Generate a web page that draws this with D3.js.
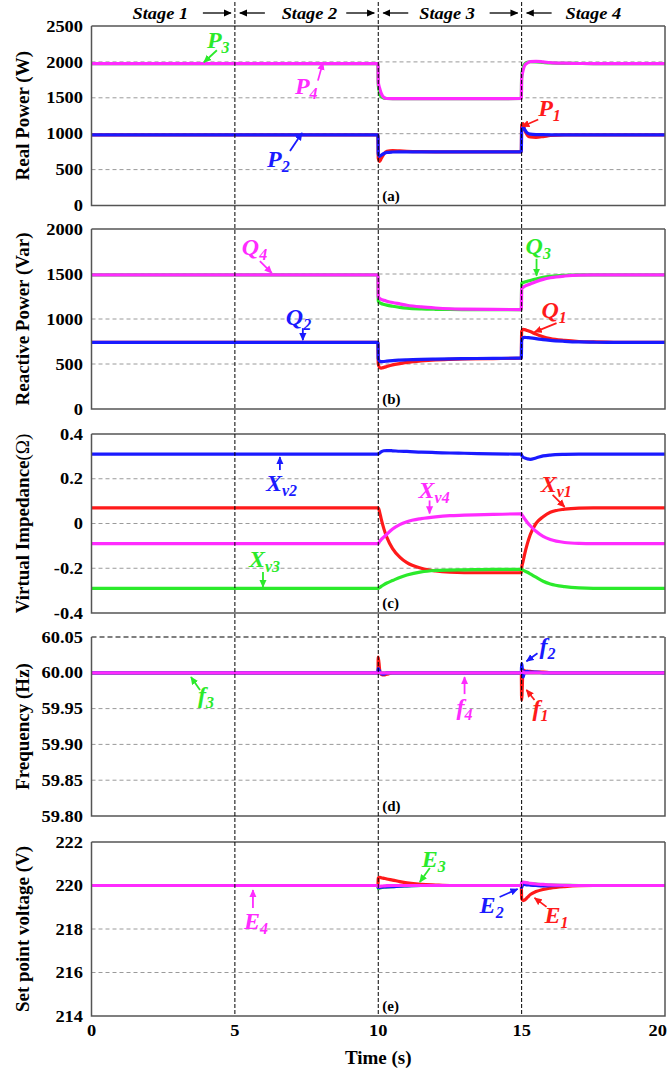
<!DOCTYPE html>
<html>
<head>
<meta charset="utf-8">
<script src="https://cdn.jsdelivr.net/npm/d3@7"></script>
<style>
  body { margin: 0; background: #fff; }
  svg { display: block; }
  text { font-family: "Liberation Serif", "Times New Roman", serif; }
</style>
</head>
<body>
<svg id="chart" width="668" height="1072"></svg>
<script>
// ---- data ----
const time = [0, 5, 9.99, 10, 10.05, 10.1, 10.2, 10.3, 10.5, 10.75, 11, 11.5, 12,
  12.5, 13, 14, 14.99, 15, 15.05, 15.1, 15.2, 15.3, 15.5, 15.75, 16, 16.5, 17,
  17.5, 18, 19, 20];

// (a) real power, W
const P1 = [985,985,985, 660,615,650,720,755, 765,760,755,750,748, 748,748,748,748, 1120,1140,1060,980,955, 950,960,975,985,985, 985,985,985,985];
const P2 = [985,985,985, 720,685,700,725,740, 745,747,748,748,748, 748,748,748,748, 1050,1095,1060,1010,995, 988,986,985,985,985, 985,985,985,985];
const P3 = [1975,1975,1975, 1680,1570,1515,1495,1490, 1488,1488,1488,1488,1488, 1488,1488,1488,1490, 1800,1920,1965,1995,2002, 2000,1992,1985,1980,1978, 1977,1976,1976,1976];
const P4 = [1975,1975,1975, 1720,1630,1565,1505,1490, 1488,1488,1488,1488,1488, 1488,1488,1488,1490, 1760,1880,1945,1985,2005, 2008,2000,1990,1982,1978, 1977,1976,1976,1976];

// (b) reactive power, Var
const Q1 = [740,740,740, 500,460,455,462,472, 490,505,518,535,546, 552,556,560,565, 860,885,882,872,860, 832,802,782,762,750, 745,742,740,740];
const Q2 = [740,740,740, 560,530,526,528,532, 538,543,547,552,555, 558,560,563,565, 760,792,796,793,790, 782,770,762,752,745, 742,740,740,740];
const Q3 = [1490,1490,1490, 1200,1180,1172,1162,1154, 1142,1130,1121,1112,1108, 1106,1105,1104,1104, 1395,1405,1410,1420,1428, 1445,1462,1473,1485,1490, 1490,1490,1490,1490];
const Q4 = [1490,1490,1490, 1250,1228,1218,1207,1198, 1183,1168,1153,1134,1122, 1114,1110,1106,1105, 1340,1352,1362,1377,1390, 1415,1440,1458,1478,1488, 1490,1490,1490,1490];

// (c) virtual impedance, ohm
const Xv1 = [0.07,0.07,0.07, 0.07,0.05,0.022,-0.025,-0.062, -0.112,-0.15,-0.175,-0.2,-0.212, -0.218,-0.22,-0.22,-0.22, -0.2,-0.17,-0.14,-0.09,-0.05, 0.0,0.03,0.05,0.064,0.069, 0.07,0.07,0.07,0.07];
const Xv2 = [0.31,0.31,0.31, 0.31,0.315,0.32,0.325,0.326, 0.325,0.323,0.322,0.319,0.317, 0.315,0.314,0.311,0.31, 0.305,0.297,0.293,0.289,0.287, 0.293,0.302,0.306,0.309,0.31, 0.31,0.31,0.31,0.31];
const Xv3 = [-0.29,-0.29,-0.29, -0.29,-0.286,-0.281,-0.273,-0.266, -0.255,-0.241,-0.23,-0.216,-0.21, -0.208,-0.207,-0.205,-0.205, -0.205,-0.208,-0.212,-0.218,-0.225, -0.24,-0.258,-0.27,-0.282,-0.288, -0.29,-0.29,-0.29,-0.29];
const Xv4 = [-0.09,-0.09,-0.09, -0.09,-0.08,-0.072,-0.06,-0.048, -0.025,-0.005,0.008,0.022,0.03, 0.035,0.037,0.041,0.043, 0.04,0.032,0.022,0.005,-0.01, -0.035,-0.058,-0.072,-0.085,-0.089, -0.09,-0.09,-0.09,-0.09];

// (d) frequency, Hz
const f1 = [60,60,60, 60.022,60.004,59.998,59.997,59.998, 60,60,60,60,60, 60,60,60,60, 59.962,60.004,60.003,60.002,60.002, 60.001,60.001,60,60,60, 60,60,60,60];
const f2 = [60,60,60, 60.006,60.002,59.999,59.998,60, 60,60,60,60,60, 60,60,60,60, 60.013,59.994,60.001,60.002,60.001, 60.001,60,60,60,60, 60,60,60,60];
const f3 = [60,60,60, 59.999,59.999,60,60,60, 60,60,60,60,60, 60,60,60,60, 60.004,60.001,60,60,60, 60,60,60,60,60, 60,60,60,60];
const f4 = [60,60,60, 60,60,60,60,60, 60,60,60,60,60, 60,60,60,60, 60.002,60.001,60,60,60, 60,60,60,60,60, 60,60,60,60];

// (e) set point voltage, V
const E1 = [220,220,220, 220.35,220.38,220.36,220.33,220.3, 220.25,220.18,220.12,220.05,220.02, 220,220,220,220, 219.4,219.3,219.33,219.45,219.58, 219.72,219.82,219.88,219.95,219.99, 220,220,220,220];
const E2 = [220,220,220, 219.9,219.91,219.92,219.93,219.94, 219.95,219.97,219.98,220,220, 220,220,220,220, 219.9,220.06,220.05,220.03,220.02, 220,219.98,219.99,220,220, 220,220,220,220];
const E3 = [220,220,220, 219.85,219.88,219.9,219.92,219.93, 219.95,219.97,219.98,220,220, 220,220,220,220, 220.12,220.14,220.13,220.11,220.09, 220.06,220.04,220.02,220.01,220, 220,220,220,220];
const E4 = [220,220,220, 219.95,219.96,219.97,219.98,219.99, 220,220,220,220,220, 220,220,220,220, 220.16,220.15,220.14,220.12,220.1, 220.07,220.05,220.03,220.01,220, 220,220,220,220];

const ticksA = [0, 500, 1000, 1500, 2000, 2500];
const ticksB = [0, 500, 1000, 1500, 2000];
const ticksC = [-0.4, -0.2, 0, 0.2, 0.4];
const ticksD = [59.8, 59.85, 59.9, 59.95, 60.0, 60.05];
const ticksE = [214, 216, 218, 220, 222];
const timeTicks = [0, 5, 10, 15, 20];

const stageBounds = [5, 10, 15];
const stageNames = ['Stage 1', 'Stage 2', 'Stage 3', 'Stage 4'];
const stageLabelT = [2.4, 7.6, 12.4, 17.5];

// ---- styling / layout ----
const RED = '#ff1a1a', GREEN = '#2bea2b', BLUE = '#1a1aff', MAGENTA = '#ff2bff';
const plotLeft = 91.5, plotRight = 665;

const svg = d3.select('#chart');
const x = d3.scaleLinear().domain([0, 20]).range([plotLeft, plotRight]);

// horizontally stretched text, the original lettering is a bit wide
function wideText(sel, px, py, str, sx) {
    return sel.append('text')
        .attr('transform', `translate(${px},${py}) scale(${sx || 1.15},1)`)
        .text(str);
}

const defs = svg.append('defs');
[['red', RED], ['green', GREEN], ['blue', BLUE], ['magenta', MAGENTA], ['black', '#000']].forEach(([k, c]) => {
    defs.append('marker')
        .attr('id', 'arr-' + k)
        .attr('viewBox', '0 0 10 10')
        .attr('refX', 9).attr('refY', 5)
        .attr('markerWidth', 8).attr('markerHeight', 8)
        .attr('markerUnits', 'userSpaceOnUse')
        .attr('orient', 'auto')
        .append('path').attr('d', 'M0,0.5 L10,5 L0,9.5 z').attr('fill', c);
});
const colorKey = {[RED]: 'red', [GREEN]: 'green', [BLUE]: 'blue', [MAGENTA]: 'magenta'};

// annotation: tip at (t, v) in data units, label + arrow tail offset in px from the tip
const panels = [
    {tag: '(a)', top: 26, bottom: 205.5, domain: [0, 2500], ticks: ticksA, fmt: d => String(d),
     title: ['Real Power (W)'],
     series: [[P1, RED], [P3, GREEN], [P2, BLUE], [P4, MAGENTA]],
     notes: [
        {m: 'P', s: '3', c: GREEN, t: 3.92, v: 1995, lx: 3, ly: -14, tx: 13, ty: -12},
        {m: 'P', s: '4', c: MAGENTA, t: 8.07, v: 1990, lx: -28, ly: 31, tx: -5, ty: 18},
        {m: 'P', s: '2', c: BLUE, t: 7.34, v: 1010, lx: -35, ly: 34, tx: -12, ty: 18},
        {m: 'P', s: '1', c: RED, t: 15.02, v: 1100, lx: 16, ly: -11, tx: 16, ty: -7}
     ]},
    {tag: '(b)', top: 229, bottom: 409, domain: [0, 2000], ticks: ticksB, fmt: d => String(d),
     title: ['Reactive Power (Var)'],
     series: [[Q1, RED], [Q3, GREEN], [Q2, BLUE], [Q4, MAGENTA]],
     notes: [
        {m: 'Q', s: '4', c: MAGENTA, t: 6.29, v: 1510, lx: -30, ly: -18, tx: -12, ty: -12},
        {m: 'Q', s: '2', c: BLUE, t: 7.37, v: 765, lx: -17, ly: -15, tx: 0, ty: -12},
        {m: 'Q', s: '3', c: GREEN, t: 15.52, v: 1480, lx: -11, ly: -22, tx: 0, ty: -17},
        {m: 'Q', s: '1', c: RED, t: 15.45, v: 855, lx: 7, ly: -14, tx: 22, ty: -9}
     ]},
    {tag: '(c)', top: 434, bottom: 613, domain: [-0.4, 0.4], ticks: ticksC,
     fmt: d => (d === 0 ? '0' : d.toFixed(1)),
     title: ['Virtual Impedance', '(Ω)'],
     series: [[Xv1, RED], [Xv3, GREEN], [Xv2, BLUE], [Xv4, MAGENTA]],
     notes: [
        {m: 'X', s: 'v2', c: BLUE, t: 6.57, v: 0.297, lx: -14, ly: 34, tx: 0, ty: 13},
        {m: 'X', s: 'v3', c: GREEN, t: 5.98, v: -0.284, lx: -14, ly: -20, tx: 0, ty: -15},
        {m: 'X', s: 'v4', c: MAGENTA, t: 11.79, v: 0.045, lx: -11, ly: -15, tx: 0, ty: -13},
        {m: 'X', s: 'v1', c: RED, t: 16.5, v: 0.074, lx: -24, ly: -15, tx: -12, ty: -12}
     ]},
    {tag: '(d)', top: 637, bottom: 816, domain: [59.8, 60.05], ticks: ticksD, fmt: d => d.toFixed(2),
     title: ['Frequency (Hz)'], dashedTop: true,
     series: [[f1, RED], [f3, GREEN], [f2, BLUE], [f4, MAGENTA]],
     notes: [
        {m: 'f', s: '3', c: GREEN, t: 3.47, v: 59.994, lx: 7, ly: 26, tx: 9, ty: 13},
        {m: 'f', s: '4', c: MAGENTA, t: 13.01, v: 59.994, lx: -8, ly: 38, tx: 0, ty: 17},
        {m: 'f', s: '2', c: BLUE, t: 15.17, v: 60.016, lx: 13, ly: -7, tx: 11, ty: -8},
        {m: 'f', s: '1', c: RED, t: 15.17, v: 59.976, lx: 6, ly: 26, tx: 8, ty: 10}
     ]},
    {tag: '(e)', top: 842, bottom: 1016, domain: [214, 222], ticks: ticksE, fmt: d => String(d),
     title: ['Set point voltage (V)'],
     series: [[E1, RED], [E3, GREEN], [E2, BLUE], [E4, MAGENTA]],
     notes: [
        {m: 'E', s: '4', c: MAGENTA, t: 5.63, v: 219.79, lx: -9, ly: 39, tx: 0, ty: 18},
        {m: 'E', s: '3', c: GREEN, t: 11.45, v: 220.16, lx: 2, ly: -15, tx: 10, ty: -14},
        {m: 'E', s: '2', c: BLUE, t: 14.86, v: 219.84, lx: -38, ly: 24, tx: -18, ty: 8},
        {m: 'E', s: '1', c: RED, t: 15.45, v: 219.43, lx: 10, ly: 25, tx: 12, ty: 9}
     ]}
];

panels.forEach((p, pi) => {
    const y = d3.scaleLinear().domain(p.domain).range([p.bottom, p.top]);
    const g = svg.append('g');

    defs.append('clipPath').attr('id', 'clip' + pi)
        .append('rect')
        .attr('x', plotLeft).attr('y', p.top)
        .attr('width', plotRight - plotLeft).attr('height', p.bottom - p.top);

    // dashed grid
    g.selectAll('.grid').data(p.ticks.slice(1, -1)).join('line')
        .attr('x1', plotLeft).attr('x2', plotRight)
        .attr('y1', d => y(d)).attr('y2', d => y(d))
        .attr('stroke', '#9a9a9a').attr('stroke-width', 1)
        .attr('stroke-dasharray', '4,3');

    // traces
    const line = d3.line()
        .x((d, i) => x(time[i]))
        .y(d => y(d))
        .curve(d3.curveMonotoneX);
    g.append('g').attr('clip-path', `url(#clip${pi})`)
        .selectAll('path').data(p.series).join('path')
        .attr('d', s => line(s[0]))
        .attr('fill', 'none')
        .attr('stroke', s => s[1])
        .attr('stroke-width', 3.2)
        .attr('stroke-linejoin', 'round');

    // frame
    g.append('path')
        .attr('d', `M${plotLeft},${p.top}V${p.bottom}H${plotRight}V${p.top}`)
        .attr('fill', 'none').attr('stroke', '#555').attr('stroke-width', 1.5);
    g.append('line')
        .attr('x1', plotLeft).attr('x2', plotRight)
        .attr('y1', p.top).attr('y2', p.top)
        .attr('stroke', '#555').attr('stroke-width', 1.5)
        .attr('stroke-dasharray', p.dashedTop ? '5,3' : null);

    // y tick labels
    p.ticks.forEach(d => {
        wideText(g, 83, y(d), p.fmt(d))
            .attr('text-anchor', 'end')
            .attr('dy', '0.35em')
            .attr('font-size', 16).attr('font-weight', 'bold');
    });

    // y title
    const tt = g.append('text')
        .attr('transform', `translate(29,${(p.top + p.bottom) / 2}) rotate(-90)`)
        .attr('text-anchor', 'middle')
        .attr('font-size', 19).attr('font-weight', 'bold')
        .text(p.title[0]);
    if (p.title[1]) tt.append('tspan').attr('font-weight', 'normal').text(p.title[1]);

    // panel tag
    g.append('text')
        .attr('x', x(10) + 4).attr('y', p.bottom - 5)
        .attr('font-size', 15).attr('font-weight', 'bold')
        .text(p.tag);

    // annotations
    p.notes.forEach(n => {
        const px = x(n.t), py = y(n.v);
        g.append('line')
            .attr('x1', px + n.tx).attr('y1', py + n.ty)
            .attr('x2', px).attr('y2', py)
            .attr('stroke', n.c).attr('stroke-width', 1.8)
            .attr('marker-end', `url(#arr-${colorKey[n.c]})`);
        const txt = g.append('text')
            .attr('x', px + n.lx).attr('y', py + n.ly)
            .attr('fill', n.c)
            .attr('font-size', 24).attr('font-weight', 'bold').attr('font-style', 'italic')
            .text(n.m);
        txt.append('tspan').attr('font-size', 16).attr('dy', 5).text(n.s);
    });
});

// stage boundaries
svg.append('g').selectAll('line').data(stageBounds).join('line')
    .attr('x1', d => x(d)).attr('x2', d => x(d))
    .attr('y1', 2).attr('y2', 1016)
    .attr('stroke', '#000').attr('stroke-width', 1)
    .attr('stroke-dasharray', '4,2');

// stage header
const head = svg.append('g');
stageNames.forEach((s, i) => {
    wideText(head, x(stageLabelT[i]), 19, s, 1.08)
        .attr('text-anchor', 'middle')
        .attr('font-size', 17).attr('font-weight', 'bold').attr('font-style', 'italic');
});
stageBounds.forEach(b => {
    const bx = x(b);
    head.append('line').attr('x1', bx - 32).attr('x2', bx - 4).attr('y1', 13).attr('y2', 13)
        .attr('stroke', '#000').attr('stroke-width', 1.3).attr('marker-end', 'url(#arr-black)');
    head.append('line').attr('x1', bx + 30).attr('x2', bx + 5).attr('y1', 13).attr('y2', 13)
        .attr('stroke', '#000').attr('stroke-width', 1.3).attr('marker-end', 'url(#arr-black)');
});

// time axis (last label kept inside the page)
timeTicks.forEach((d, i) => {
    const last = i === timeTicks.length - 1;
    wideText(svg, last ? 667 : x(d), 1036, String(d))
        .attr('text-anchor', last ? 'end' : 'middle')
        .attr('font-size', 16).attr('font-weight', 'bold');
});
svg.append('text')
    .attr('x', (plotLeft + plotRight) / 2).attr('y', 1064)
    .attr('text-anchor', 'middle')
    .attr('font-size', 19).attr('font-weight', 'bold')
    .text('Time (s)');
</script>
</body>
</html>
